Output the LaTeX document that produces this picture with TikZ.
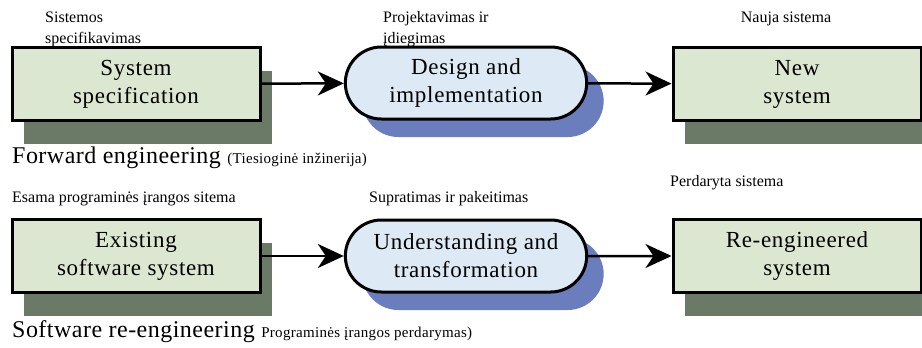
\documentclass[tikz,border=0pt]{standalone}
\usepackage{fontspec}
\setmainfont{Liberation Serif}
\usetikzlibrary{arrows.meta,shadows,shapes.misc}

\definecolor{boxgreen}{HTML}{DCE7D2}
\definecolor{shadegreen}{HTML}{6B7A66}
\definecolor{roundblue}{HTML}{DDEAF5}
\definecolor{shadeblue}{HTML}{6A7DBD}

\tikzset{
  sysbox/.style = {draw, line width = 3pt, fill = boxgreen,
    minimum width = 248pt, minimum height = 73pt, align = center,
    font = \fontsize{23}{28}\selectfont\addfontfeatures{LetterSpace = 3},
    drop shadow = {shadow xshift = 12pt, shadow yshift = -23pt,
      fill = shadegreen, opacity = 1}},
  procround/.style = {draw, line width = 3pt, rounded rectangle,
    fill = roundblue, minimum width = 248pt, minimum height = 72pt,
    align = center,
    font = \fontsize{23}{28}\selectfont\addfontfeatures{LetterSpace = 3},
    drop shadow = {shadow xshift = 17pt, shadow yshift = -18pt,
      fill = shadeblue, opacity = 1}},
  note/.style = {font = \fontsize{16}{21}\selectfont, align = left,
    inner sep = 0pt},
  heading/.style = {font = \fontsize{24}{28}\selectfont\addfontfeatures{LetterSpace = 2},
    inner sep = 0pt},
  flow/.style = {line width = 2.5pt,
    -{Stealth[length = 26pt, width = 24pt, inset = 8pt]}}
}

\begin{document}
\begin{tikzpicture}[x = 1pt, y = -1pt]
  \useasboundingbox (0, 0) rectangle (922, 348);

  % forward engineering
  \node[sysbox] (spec) at (136, 84) {System\\specification};
  \node[procround] (design) at (466, 83) {Design and\\implementation};
  \node[sysbox] (newsys) at (797, 84) {New\\system};

  \node[note, anchor = base west] (specnote) at (45, 43)
    {Sistemos\\specifikavimas};
  \node[note, anchor = base west] (designnote) at (383, 43)
    {Projektavimas ir\\įdiegimas};
  \node[note, anchor = base] (newnote) at (786, 22) {Nauja sistema};

  \draw[flow] (spec) -- (design);
  \draw[flow] (design) -- (newsys);

  \node[heading, anchor = base west] (fwd) at (12, 163)
    {Forward engineering {\fontsize{15}{18}\selectfont (Tiesioginė inžinerija)}};

  % re-engineering
  \node[sysbox] (exist) at (136, 256) {Existing\\software system};
  \node[procround] (underst) at (466, 256) {Understanding and\\transformation};
  \node[sysbox] (reeng) at (797, 256) {Re-engineered\\system};

  \node[note, anchor = base west] (existnote) at (12, 202)
    {Esama programinės įrangos sitema};
  \node[note, anchor = base west] (understnote) at (369, 202)
    {Supratimas ir pakeitimas};
  \node[note, anchor = base west] (reengnote) at (670, 186)
    {Perdaryta sistema};

  \draw[flow] (exist) -- (underst);
  \draw[flow] (underst) -- (reeng);

  \node[heading, anchor = base west] (reengtitle) at (12, 337)
    {Software re-engineering {\fontsize{15}{18}\selectfont Programinės įrangos perdarymas)}};
\end{tikzpicture}
\end{document}
